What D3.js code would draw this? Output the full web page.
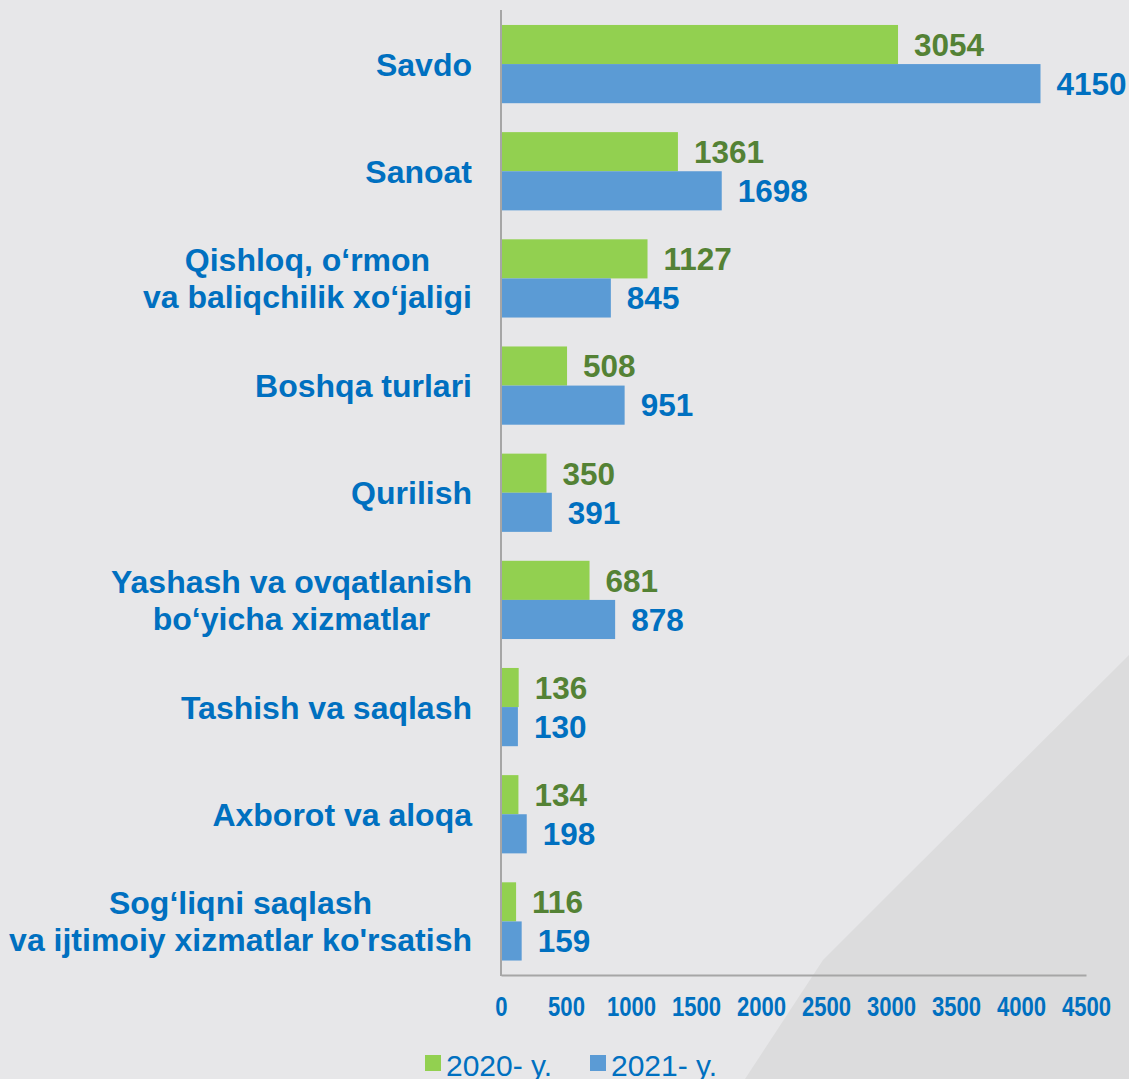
<!DOCTYPE html>
<html><head><meta charset="utf-8">
<script src="https://cdn.jsdelivr.net/npm/d3@7"></script>
<style>
html,body{margin:0;padding:0;background:#e7e7e9;}
svg{display:block;font-family:"Liberation Sans",Arial,sans-serif;}
</style></head><body>
<svg id="c" width="1129" height="1079"></svg>
<script>
const categories = [
  ["Savdo"],
  ["Sanoat"],
  ["Qishloq, o‘rmon", "va baliqchilik xo‘jaligi"],
  ["Boshqa turlari"],
  ["Qurilish"],
  ["Yashash va ovqatlanish", "bo‘yicha xizmatlar"],
  ["Tashish va saqlash"],
  ["Axborot va aloqa"],
  ["Sog‘liqni saqlash", "va ijtimoiy xizmatlar ko'rsatish"]
];
const seriesNames = ["2020- y.", "2021- y."];
const values2020 = [3054, 1361, 1127, 508, 350, 681, 136, 134, 116];
const values2021 = [4150, 1698, 845, 951, 391, 878, 130, 198, 159];
const xTicks = [0, 500, 1000, 1500, 2000, 2500, 3000, 3500, 4000, 4500];

const barColors = ["#92d050", "#5b9bd5"];
const valueColors = ["#548235", "#0070c0"];
const textBlue = "#0070c0";

const svg = d3.select("#c");
const W = 1129, H = 1079;

// background diagonal shade
svg.append("rect").attr("width", W).attr("height", H).attr("fill", "#e7e7e9");
svg.append("path")
  .attr("d", "M1129,655 L900,883 L823,960 L745,1079 L1129,1079 Z")
  .attr("fill", "#dcdcdd");

const x = d3.scaleLinear().domain([0, 4500]).range([501, 1086]);
const keys = categories.map((c, i) => i);
const y = d3.scaleBand().domain(keys).range([10.5, 975]).paddingInner(0.27).paddingOuter(0.135);
const ySub = d3.scaleBand().domain([0, 1]).range([0, y.bandwidth()]);

const data = keys.map(i => ({i, vals: [values2020[i], values2021[i]]}));

const g = svg.append("g");
const groups = g.selectAll("g.cat").data(data).join("g")
  .attr("class", "cat")
  .attr("transform", d => `translate(0,${y(d.i)})`);

groups.selectAll("rect").data(d => d.vals.map((v, s) => ({v, s}))).join("rect")
  .attr("x", x(0))
  .attr("y", d => ySub(d.s))
  .attr("width", d => x(d.v) - x(0))
  .attr("height", ySub.bandwidth())
  .attr("fill", d => barColors[d.s]);

groups.selectAll("text.val").data(d => d.vals.map((v, s) => ({v, s}))).join("text")
  .attr("class", "val")
  .attr("x", d => x(d.v) + 16)
  .attr("y", d => ySub(d.s) + ySub.bandwidth() / 2)
  .attr("dy", "0.36em")
  .attr("font-size", 31.5)
  .attr("font-weight", "bold")
  .attr("fill", d => valueColors[d.s])
  .text(d => d.v);

// category labels: lines centered within block, block right-aligned
const labelRight = 472;
const lineH = 37;
const lab = svg.append("g");
categories.forEach((lines, i) => {
  const cy = y(i) + y.bandwidth() / 2;
  const t = lab.append("g");
  const texts = lines.map((ln, k) => t.append("text")
    .attr("y", cy + (k - (lines.length - 1) / 2) * lineH)
    .attr("dy", "0.36em")
    .attr("font-size", 32)
    .attr("font-weight", "bold")
    .attr("fill", textBlue)
    .attr("text-anchor", "middle")
    .text(ln));
  const maxW = d3.max(texts, tx => tx.node().getComputedTextLength());
  texts.forEach(tx => tx.attr("x", labelRight - maxW / 2));
});

// axes
const xAxis = d3.axisBottom(x).tickValues(xTicks).tickSize(0).tickPadding(0).tickFormat(d3.format("d"));
const ax = svg.append("g").attr("transform", "translate(0,975)").call(xAxis);
ax.select(".domain").attr("stroke", "#a6a6a6").attr("stroke-width", 2);
ax.selectAll(".tick text")
  .attr("y", 31)
  .attr("dy", "0.36em")
  .attr("font-size", 27)
  .attr("font-weight", "bold")
  .attr("fill", textBlue)
  .attr("font-family", "'Liberation Sans', Arial, sans-serif")
  .attr("transform", "scale(0.82,1)");

svg.append("line")
  .attr("x1", x(0)).attr("x2", x(0))
  .attr("y1", 10).attr("y2", 976)
  .attr("stroke", "#a6a6a6").attr("stroke-width", 2);

// legend
const legendX = [425, 590];
const leg = svg.append("g");
seriesNames.forEach((n, s) => {
  leg.append("rect").attr("x", legendX[s]).attr("y", 1055).attr("width", 16).attr("height", 16).attr("fill", barColors[s]);
  leg.append("text").attr("x", legendX[s] + 21).attr("y", 1076)
    .attr("font-size", 30).attr("fill", textBlue).text(n);
});
</script>
</body></html>
